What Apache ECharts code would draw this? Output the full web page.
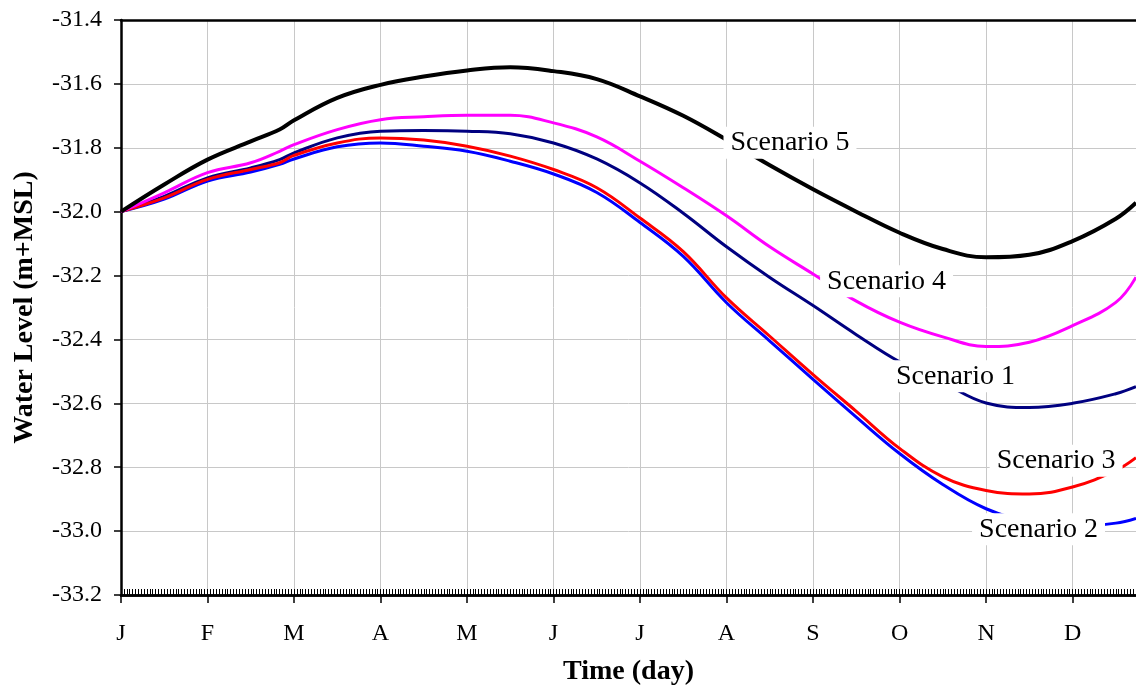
<!DOCTYPE html>
<html>
<head>
<meta charset="utf-8">
<script src="https://cdn.jsdelivr.net/npm/echarts@6/dist/echarts.min.js"></script>
<style>
    html, body { margin: 0; padding: 0; background: #fff; }
    #chart { width: 1136px; height: 691px; }
</style>
</head>
<body>
<div id="chart"></div>
<script>
const monthLabels = ["J", "F", "M", "A", "M", "J", "J", "A", "S", "O", "N", "D"];

// day of year
const days = [0, 15, 30, 45, 55, 60, 75, 90, 105, 120, 135, 150, 165, 180, 195, 210, 225, 240, 255, 270, 285, 300, 315, 330, 345, 352];

// water level (m+MSL)
const scenario1 = [-32.0, -31.952, -31.894, -31.863, -31.837, -31.816, -31.769, -31.748, -31.746, -31.748, -31.756, -31.785, -31.835, -31.91, -32.005, -32.11, -32.206, -32.294, -32.385, -32.47, -32.535, -32.599, -32.613, -32.6, -32.57, -32.548];
const scenario2 = [-32.0, -31.961, -31.904, -31.876, -31.852, -31.835, -31.797, -31.785, -31.795, -31.811, -31.842, -31.882, -31.94, -32.034, -32.14, -32.285, -32.405, -32.525, -32.643, -32.757, -32.854, -32.93, -32.97, -32.985, -32.975, -32.96];
const scenario3 = [-32.0, -31.957, -31.899, -31.868, -31.847, -31.824, -31.785, -31.769, -31.776, -31.795, -31.826, -31.868, -31.925, -32.02, -32.125, -32.27, -32.39, -32.51, -32.625, -32.741, -32.83, -32.873, -32.884, -32.862, -32.81, -32.77];
const scenario4 = [-32.0, -31.941, -31.878, -31.847, -31.811, -31.79, -31.743, -31.712, -31.703, -31.698, -31.698, -31.722, -31.766, -31.842, -31.925, -32.013, -32.11, -32.195, -32.28, -32.346, -32.392, -32.422, -32.409, -32.357, -32.284, -32.205];
const scenario5 = [-32.0, -31.915, -31.837, -31.78, -31.743, -31.714, -31.644, -31.603, -31.577, -31.558, -31.548, -31.56, -31.585, -31.639, -31.70, -31.775, -31.855, -31.93, -32.0, -32.066, -32.117, -32.143, -32.135, -32.092, -32.022, -31.972];

// where each curve's name sits (day, level)
const labelNames = ["Scenario 5", "Scenario 4", "Scenario 1", "Scenario 3", "Scenario 2"];
const labelAnchors = [[232, -31.784], [265.5, -32.218], [289.4, -32.515], [324.3, -32.78], [318.2, -32.994]];

const serif = "'Liberation Serif', 'Times New Roman', serif";
const chart = echarts.init(document.getElementById("chart"));

function lineSeries(name, values, color, width) {
    return {
        name: name,
        type: "line",
        smooth: 0.4,
        showSymbol: false,
        silent: true,
        data: days.map((d, i) => [d, values[i]]),
        lineStyle: { color: color, width: width },
        z: 3
    };
}

const xBase = { type: "value", min: 0, max: 352 };

const option = {
    backgroundColor: "#fff",
    animation: false,
    grid: { left: 121, top: 20, width: 1017, height: 577 },
    xAxis: [
        Object.assign({}, xBase, {
            position: "bottom",
            interval: 30,
            name: "Time (day)",
            nameLocation: "middle",
            nameGap: 63,
            nameTextStyle: { fontFamily: serif, fontSize: 28, fontWeight: "bold", color: "#000" },
            axisLine: { lineStyle: { color: "#000", width: 2.5 } },
            axisTick: { length: 8, lineStyle: { color: "#000", width: 1.5 } },
            axisLabel: {
                margin: 27,
                fontFamily: serif,
                fontSize: 24,
                color: "#000",
                showMaxLabel: false,
                formatter: v => (v % 30 === 0 ? monthLabels[v / 30] || "" : "")
            },
            splitLine: { show: true, lineStyle: { color: "#c8c8c8", width: 1 } }
        }),
        Object.assign({}, xBase, {
            position: "bottom",
            interval: 1,
            axisLine: { lineStyle: { color: "#000", width: 2.5 } },
            axisTick: { inside: true, length: 6, lineStyle: { color: "#000", width: 1 } },
            axisLabel: { show: false },
            splitLine: { show: false }
        }),
        Object.assign({}, xBase, {
            position: "top",
            axisLine: { lineStyle: { color: "#000", width: 2.5 } },
            axisTick: { show: false },
            axisLabel: { show: false },
            splitLine: { show: false }
        })
    ],
    yAxis: {
        type: "value",
        min: -33.2,
        max: -31.4,
        interval: 0.2,
        name: "Water Level (m+MSL)",
        nameLocation: "middle",
        nameGap: 82,
        nameTextStyle: { fontFamily: serif, fontSize: 28, fontWeight: "bold", color: "#000" },
        axisLine: { lineStyle: { color: "#000", width: 2.5 } },
        axisTick: { length: 7, lineStyle: { color: "#000", width: 1.5 } },
        axisLabel: {
            margin: 19,
            fontFamily: serif,
            fontSize: 24,
            color: "#000",
            formatter: v => v.toFixed(1)
        },
        splitLine: { show: true, lineStyle: { color: "#c8c8c8", width: 1 } }
    },
    series: [
        lineSeries("Scenario 1", scenario1, "#000080", 3),
        lineSeries("Scenario 2", scenario2, "#0000ff", 3),
        lineSeries("Scenario 3", scenario3, "#ff0000", 3),
        lineSeries("Scenario 4", scenario4, "#ff00ff", 3),
        lineSeries("Scenario 5", scenario5, "#000000", 4),
        {
            name: "labels",
            type: "scatter",
            silent: true,
            symbolSize: 1,
            itemStyle: { color: "#fff", opacity: 1 },
            z: 10,
            data: labelAnchors.map((p, i) => ({ name: labelNames[i], value: p })),
            label: {
                show: true,
                position: "inside",
                formatter: "{b}",
                fontFamily: serif,
                fontSize: 28,
                color: "#000",
                opacity: 1,
                backgroundColor: "#fff",
                padding: [2, 7]
            }
        }
    ]
};

chart.setOption(option);
</script>
</body>
</html>
